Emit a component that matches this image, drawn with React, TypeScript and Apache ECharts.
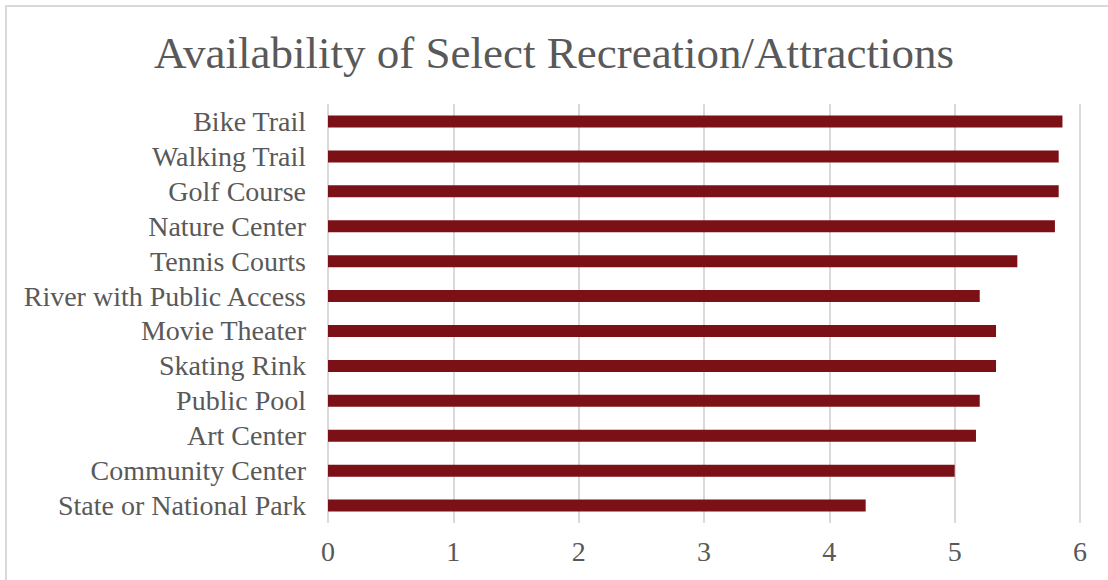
import React, { useEffect, useRef } from "react";
import * as echarts from "echarts";

const categories = [
  "Bike Trail",
  "Walking Trail",
  "Golf Course",
  "Nature Center",
  "Tennis Courts",
  "River with Public Access",
  "Movie Theater",
  "Skating Rink",
  "Public Pool",
  "Art Center",
  "Community Center",
  "State or National Park",
];
const values = [5.86, 5.83, 5.83, 5.8, 5.5, 5.2, 5.33, 5.33, 5.2, 5.17, 5.0, 4.29];
const titleText = "Availability of Select Recreation/Attractions";

const FONT = "'Liberation Serif', 'DejaVu Serif', serif";
const TEXT_COLOR = "#595959";

export default function App() {
  const ref = useRef<HTMLDivElement>(null);
  useEffect(() => {
    document.body.style.margin = "0";
    const chart = echarts.init(ref.current!, null, { renderer: "svg" });
    chart.setOption({
      animation: false,
      backgroundColor: "#ffffff",
      title: {
        text: titleText,
        left: "center",
        top: 25,
        textStyle: { fontFamily: FONT, fontSize: 45, fontWeight: "normal", color: TEXT_COLOR },
      },
      graphic: [
        {
          type: "rect",
          shape: { x: 6, y: 6, width: 1200, height: 700 },
          style: { fill: "none", stroke: "#d9d9d9", lineWidth: 2 },
          silent: true,
        },
      ],
      grid: { left: 328, right: 28, top: 104, bottom: 57, containLabel: false },
      xAxis: {
        type: "value",
        min: 0,
        max: 6,
        interval: 1,
        axisLine: { show: false },
        axisTick: { show: false },
        axisLabel: { fontFamily: FONT, fontSize: 28, color: TEXT_COLOR, margin: 14 },
        splitLine: { show: true, lineStyle: { color: "#d9d9d9", width: 2 } },
      },
      yAxis: {
        type: "category",
        data: categories,
        inverse: true,
        axisLine: { show: false },
        axisTick: { show: false },
        axisLabel: { interval: 0, fontFamily: FONT, fontSize: 28, color: TEXT_COLOR, margin: 22 },
        splitLine: { show: false },
      },
      series: [
        {
          type: "bar",
          data: values,
          barWidth: 12,
          itemStyle: { color: "#7b1116" },
        },
      ],
    });
    return () => chart.dispose();
  }, []);
  return <div ref={ref} style={{ width: 1108, height: 580 }} />;
}
